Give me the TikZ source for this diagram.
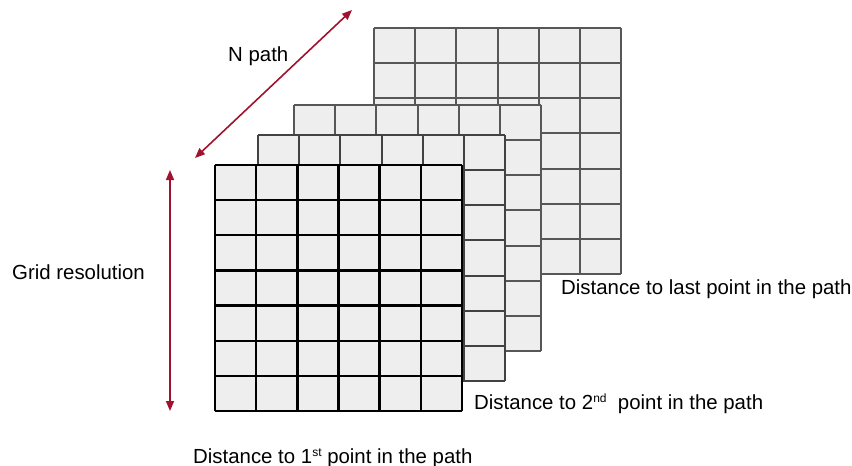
\documentclass[tikz,border=0pt]{standalone}
\usepackage{fontspec}
\setmainfont{Liberation Sans}
\usetikzlibrary{arrows.meta}
\definecolor{arrowred}{HTML}{A0122E}
\definecolor{cellgray}{HTML}{EEEEEE}
\newcommand{\ordsup}[1]{\raisebox{7pt}{\fontsize{12}{12}\selectfont #1}}

\begin{document}
\begin{tikzpicture}[x=1pt,y=-1pt,>={Triangle[length=10pt,width=8pt]},
  lbl/.style={font=\fontsize{20.4}{24}\selectfont,inner sep=0pt,anchor=base west}]
  \useasboundingbox (0,0) rectangle (852,466);
  % grid layers, back to front
  \foreach \lx/\ly/\lc/\lw in {374/28/black!66/2pt,294/105/black!66/2pt,
                               258/135/black!74/2pt,215/165/black/2.4pt}{
    \fill[cellgray] (\lx,\ly) rectangle ++(247,246);
    \foreach \i in {0,...,6}
      \draw[\lc,line width=\lw] ({\lx+\i*247/6},\ly) -- ++(0,246);
    \foreach \j in {0,...,7}
      \draw[\lc,line width=\lw] (\lx,{\ly+\j*246/7}) -- ++(247,0);
  }
  \coordinate (resTop) at (170,170);
  \coordinate (resBot) at (170,411);
  \coordinate (pathLo) at (195,158);
  \coordinate (pathHi) at (352,10);
  \draw[<->,arrowred,line width=1.6pt] (resTop) -- (resBot);
  \draw[<->,arrowred,line width=1.6pt] (pathLo) -- (pathHi);
  \node[lbl] (npath) at (228,61) {N path};
  \node[lbl] (gridres) at (12,279) {Grid resolution};
  \node[lbl] (dlast) at (561,294) {Distance to last point in the path};
  \node[lbl] (dsecond) at (474,409) {Distance to 2\ordsup{nd}\ \ point in the path};
  \node[lbl] (dfirst) at (193,463) {Distance to 1\ordsup{st} point in the path};
\end{tikzpicture}
\end{document}
